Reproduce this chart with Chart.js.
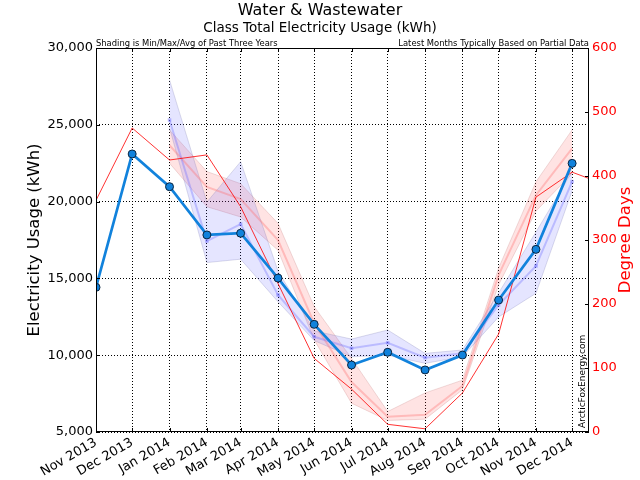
<!DOCTYPE html>
<html><head><meta charset="utf-8">
<script src="https://cdn.jsdelivr.net/npm/chart.js@4.4.1/dist/chart.umd.min.js"></script>
<style>html,body{margin:0;padding:0;background:#fff}#wrap{width:640px;height:480px;position:relative}</style>
</head><body><div id="wrap"><canvas id="c"></canvas></div>
<script>
// ---- data ----
const months = ['Nov 2013','Dec 2013','Jan 2014','Feb 2014','Mar 2014','Apr 2014','May 2014','Jun 2014','Jul 2014','Aug 2014','Sep 2014','Oct 2014','Nov 2014','Dec 2014','Jan 2015'];
const monthDays = [0,30,61,92,120,151,181,212,242,273,304,334,365,395,426];
const xMaxDay = 409;
// Electricity usage (kWh), Nov 2013 - Dec 2014
const usage = [14420,23100,20970,17830,17940,15020,12010,9360,10190,9040,10010,13590,16890,22490];
// Past three years, Jan 2014 - Dec 2014 months
const usageMax = [27920,19970,22600,15480,11580,11050,11640,10120,10340,14050,18020,21950];
const usageAvg = [25310,17430,18540,13920,11200,10450,10810,9840,10120,13270,15810,21300];
const usageMin = [24800,16030,16250,13480,10950,9900,10000,9470,9900,12490,14030,20700];
// Degree days, Nov 2013 - Jan 2015
const degreeDays = [362,475,425,433,352,232,115,67,12,5,61,153,367,406,384];
const ddMax = [472,407,388,326,196,115,32,61,81,256,391,472];
const ddAvg = [448,383,364,300,170,78,24,27,72,245,370,443];
const ddMin = [420,352,336,284,144,45,18,20,66,230,345,404];
const leftTicks = [5000,10000,15000,20000,25000,30000];
const rightTicks = [0,100,200,300,400,500,600];

const FONT = 'DejaVu Sans';
Chart.defaults.font.family = FONT;

function pts(vals, start) { return vals.map((v, i) => ({x: monthDays[start + i], y: v})); }

const BLUE = '#1182dc';
const bandBlue = 'rgba(70,70,255,0.14)';
const bandBlueEdge = 'rgba(120,120,170,0.25)';
const bandRed = 'rgba(255,60,60,0.14)';
const bandRedEdge = 'rgba(190,120,120,0.25)';

const datasets = [
  {label:'usage', data: pts(usage,0), yAxisID:'y', borderColor: BLUE, borderWidth: 2.7,
   pointRadius: 4, pointBackgroundColor: BLUE, pointBorderColor: '#0a2540', pointBorderWidth: 1, order: 0},
  {label:'degree days', data: pts(degreeDays,0), yAxisID:'y1', borderColor: 'rgba(255,0,0,0.8)', borderWidth: 1,
   pointRadius: 0, order: 1},
  {label:'usage avg', data: pts(usageAvg,2), yAxisID:'y', borderColor: 'rgba(110,110,255,0.35)', borderWidth: 2,
   pointRadius: 2.5, pointStyle: 'rect', pointBackgroundColor: 'rgba(110,110,255,0.45)', pointBorderWidth: 0, order: 2},
  {label:'dd avg', data: pts(ddAvg,2), yAxisID:'y1', borderColor: 'rgba(255,110,110,0.35)', borderWidth: 2,
   pointRadius: 0, order: 2},
  {label:'usage max', data: pts(usageMax,2), yAxisID:'y', borderColor: bandBlueEdge, borderWidth: 1,
   backgroundColor: bandBlue, fill: '+1', pointRadius: 0, order: 3},
  {label:'usage min', data: pts(usageMin,2), yAxisID:'y', borderColor: bandBlueEdge, borderWidth: 1,
   fill: false, pointRadius: 0, order: 3},
  {label:'dd max', data: pts(ddMax,2), yAxisID:'y1', borderColor: bandRedEdge, borderWidth: 1,
   backgroundColor: bandRed, fill: '+1', pointRadius: 0, order: 3},
  {label:'dd min', data: pts(ddMin,2), yAxisID:'y1', borderColor: bandRedEdge, borderWidth: 1,
   fill: false, pointRadius: 0, order: 3}
];

const decor = {
  id: 'decor',
  afterDraw(chart) {
    const {ctx, chartArea: a, scales} = chart;
    ctx.save();
    ctx.setLineDash([]);
    ctx.strokeStyle = '#000';
    ctx.lineWidth = 1;
    ctx.strokeRect(Math.round(a.left) + 0.5, Math.round(a.top) + 0.5, Math.round(a.right - a.left) - 1, Math.round(a.bottom - a.top) - 1);
    // inward tick marks
    ctx.beginPath();
    monthDays.forEach(d => {
      if (d > xMaxDay) return;
      const x = Math.round(scales.x.getPixelForValue(d)) + 0.5;
      ctx.moveTo(x, a.bottom); ctx.lineTo(x, a.bottom - 4);
      ctx.moveTo(x, a.top); ctx.lineTo(x, a.top + 4);
    });
    leftTicks.forEach(v => {
      const y = Math.round(scales.y.getPixelForValue(v)) + 0.5;
      ctx.moveTo(a.left, y); ctx.lineTo(a.left + 4, y);
    });
    ctx.stroke();
    ctx.beginPath();
    rightTicks.forEach(v => {
      const y = Math.round(scales.y1.getPixelForValue(v)) + 0.5;
      ctx.moveTo(a.right, y); ctx.lineTo(a.right - 4, y);
    });
    ctx.stroke();
    // texts
    ctx.fillStyle = '#000';
    ctx.textAlign = 'center'; ctx.textBaseline = 'middle';
    ctx.font = '16px ' + FONT;
    ctx.fillText('Water & Wastewater', 320, 11);
    ctx.font = '13.5px ' + FONT;
    ctx.fillText('Class Total Electricity Usage (kWh)', 320, 28);
    ctx.font = '8.4px ' + FONT;
    ctx.textBaseline = 'alphabetic';
    ctx.textAlign = 'left';
    ctx.fillText('Shading is Min/Max/Avg of Past Three Years', a.left, a.top - 2);
    ctx.textAlign = 'right';
    ctx.fillText('Latest Months Typically Based on Partial Data', a.right, a.top - 2);
    // axis titles
    ctx.font = '16.5px ' + FONT;
    ctx.textAlign = 'center'; ctx.textBaseline = 'middle';
    ctx.save(); ctx.translate(35, (a.top + a.bottom) / 2); ctx.rotate(-Math.PI / 2);
    ctx.fillText('Electricity Usage (kWh)', 0, 0); ctx.restore();
    ctx.fillStyle = '#ff0000';
    ctx.save(); ctx.translate(626, (a.top + a.bottom) / 2); ctx.rotate(-Math.PI / 2);
    ctx.fillText('Degree Days', 0, 0); ctx.restore();
    // watermark
    ctx.fillStyle = '#000';
    ctx.font = '9px ' + FONT;
    ctx.textAlign = 'left'; ctx.textBaseline = 'middle';
    ctx.save(); ctx.translate(a.right - 6, a.bottom - 4); ctx.rotate(-Math.PI / 2);
    ctx.fillText('ArcticFoxEnergy.com', 0, 0); ctx.restore();
    ctx.restore();
  }
};

new Chart(document.getElementById('c'), {
  type: 'line',
  data: { datasets },
  options: {
    responsive: true, maintainAspectRatio: false, animation: false,
    layout: { padding: { top: 48, left: 0, right: 0, bottom: 0 } },
    plugins: { legend: { display: false }, tooltip: { enabled: false }, title: { display: false } },
    elements: { line: { tension: 0 } },
    scales: {
      x: {
        type: 'linear', min: 0, max: xMaxDay,
        afterBuildTicks: (s) => { s.ticks = monthDays.filter(d => d <= xMaxDay).map(v => ({value: v})); },
        afterFit: (s) => { s.height = 48; },
        ticks: { autoSkip: false, maxRotation: 30, minRotation: 30, padding: 3, color: '#000',
          font: { size: 13 },
          callback: (v) => months[monthDays.indexOf(v)] },
        grid: { color: '#000', lineWidth: 1, drawTicks: false },
        border: { display: false, dash: [1, 2] }
      },
      y: {
        position: 'left', min: 5000, max: 30000,
        afterBuildTicks: (s) => { s.ticks = leftTicks.map(v => ({value: v})); },
        afterFit: (s) => { s.width = 96; },
        ticks: { padding: 3, color: '#000', font: { size: 13 },
          callback: (v) => v.toLocaleString('en-US') },
        grid: { color: '#000', lineWidth: 1, drawTicks: false },
        border: { display: false, dash: [1, 2] }
      },
      y1: {
        position: 'right', min: 0, max: 600,
        afterBuildTicks: (s) => { s.ticks = rightTicks.map(v => ({value: v})); },
        afterFit: (s) => { s.width = 51; },
        ticks: { padding: 3, color: '#ff0000', font: { size: 13 } },
        grid: { display: false, drawTicks: false },
        border: { display: false }
      }
    }
  },
  plugins: [decor]
});
</script>
</body></html>
